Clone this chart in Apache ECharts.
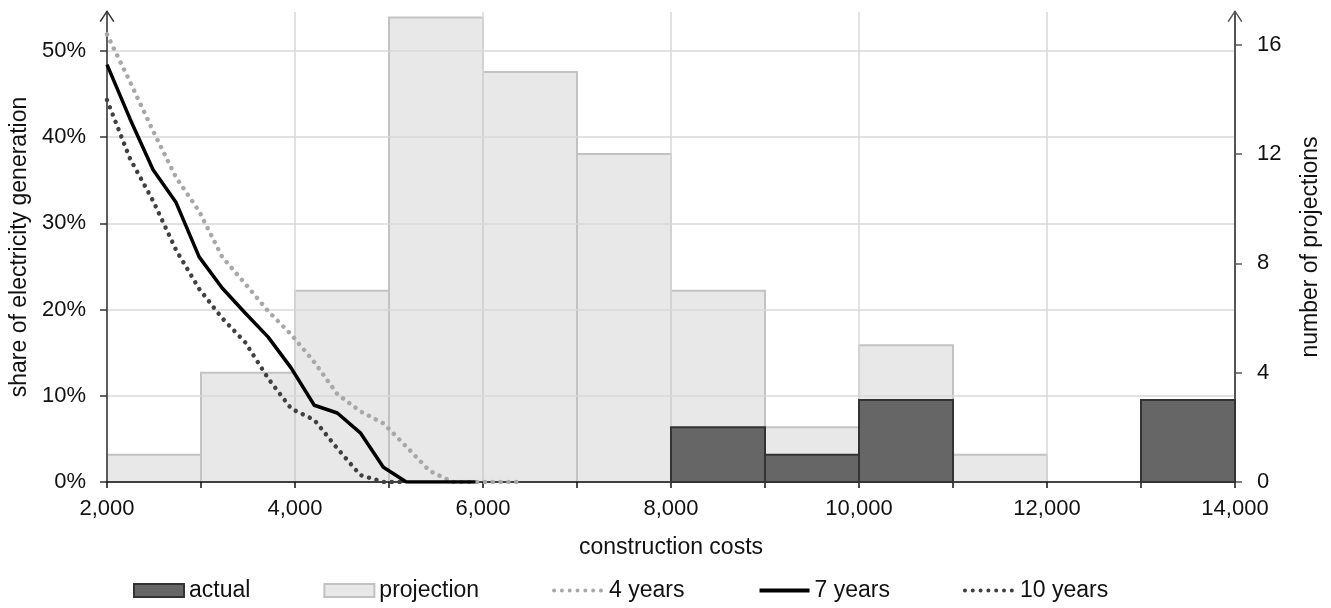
<!DOCTYPE html>
<html>
<head>
<meta charset="utf-8">
<script src="https://cdn.jsdelivr.net/npm/echarts@6/dist/echarts.min.js"></script>
<style>
  html, body { margin: 0; padding: 0; background: #ffffff; }
  #chart { width: 1331px; height: 608px; }
</style>
</head>
<body>
<div id="chart"></div>
<script>
// Histogram bins of construction costs (edges) and counts per bin
const binEdges = [2000, 3000, 4000, 5000, 6000, 7000, 8000, 9000, 10000, 11000, 12000, 13000, 14000];
const projectionCounts = [1, 4, 7, 17, 15, 12, 7, 2, 5, 1, 0, 0];
const actualCounts = [0, 0, 0, 0, 0, 0, 2, 1, 3, 0, 0, 3];

// Cost points of the share curves
const curveCosts = [2000, 2245, 2490, 2735, 2980, 3225, 3470, 3715, 3960, 4205, 4450, 4695, 4940, 5185, 5430, 5675, 5920, 6165, 6410];
// Share of electricity generation (%) for each build time
const share4Years = [51.9, 46.4, 40.7, 35.3, 31.4, 26.1, 23.0, 19.8, 17.1, 13.9, 10.2, 8.2, 6.8, 4.1, 1.3, 0, 0, 0, 0];
const share7Years = [48.4, 42.1, 36.2, 32.4, 26.1, 22.5, 19.6, 16.8, 13.2, 8.9, 8.0, 5.7, 1.7, 0, 0, 0, 0];
const share10Years = [44.3, 37.5, 32.6, 26.9, 22.4, 19.0, 16.2, 12.0, 8.5, 7.2, 3.9, 0.8, 0, 0];

// Axis ticks
const shareTicks = [0, 10, 20, 30, 40, 50];
const countTicks = [0, 4, 8, 12, 16];

const FONT = 'Liberation Sans, Arial, sans-serif';
const DOTS = [0.01, 7.8];
const LIGHT_DOTS = '#a8a8a8';
const DARK_DOTS = '#404040';

function toBins(counts) {
  return counts.map((n, i) => [binEdges[i], binEdges[i + 1], n]);
}
function toCurve(values) {
  return values.map((v, i) => [curveCosts[i], v]);
}

function histogramItem(params, api) {
  const n = api.value(2);
  if (!n) return null;
  const topLeft = api.coord([api.value(0), n]);
  const bottomRight = api.coord([api.value(1), 0]);
  return {
    type: 'rect',
    shape: {
      x: topLeft[0],
      y: topLeft[1],
      width: bottomRight[0] - topLeft[0],
      height: bottomRight[1] - topLeft[1]
    },
    style: api.style()
  };
}

const arrowPath = 'path://M0,12 L8,0 L16,12 L14.6,12.9 L8,2.6 L1.4,12.9 Z';

const chart = echarts.init(document.getElementById('chart'));

chart.setOption({
  animation: false,
  backgroundColor: '#ffffff',
  textStyle: { fontFamily: FONT },
  grid: {
    left: 107,
    right: 96,
    top: 12,
    bottom: 126,
    containLabel: false,
    outerBoundsMode: 'none'
  },
  legend: {
    bottom: 1,
    left: 128,
    itemWidth: 50,
    itemHeight: 13,
    itemGap: 73,
    textStyle: { fontSize: 23, color: '#111', fontFamily: FONT },
    data: [
      { name: 'actual', icon: 'rect' },
      { name: 'projection', icon: 'rect' },
      { name: '4 years', itemStyle: { opacity: 0 },
        lineStyle: { color: LIGHT_DOTS, width: 4, type: DOTS, cap: 'round' } },
      { name: '7 years', itemStyle: { opacity: 0 },
        lineStyle: { color: '#000000', width: 4, type: 'solid' } },
      { name: '10 years', itemStyle: { opacity: 0 },
        lineStyle: { color: DARK_DOTS, width: 4, type: DOTS, cap: 'round' } }
    ]
  },
  xAxis: {
    type: 'value',
    min: 2000,
    max: 14000,
    interval: 2000,
    name: 'construction costs',
    nameLocation: 'middle',
    nameGap: 54,
    nameTextStyle: { fontSize: 23, color: '#111', fontFamily: FONT },
    axisLine: { show: true, onZero: false, lineStyle: { color: '#111', width: 1.5 } },
    axisTick: { show: true, length: 6, lineStyle: { color: '#111', width: 1.5 } },
    minorTick: { show: true, splitNumber: 2, length: 6, lineStyle: { color: '#111', width: 1.5 } },
    axisLabel: {
      fontSize: 22,
      color: '#111',
      margin: 16,
      formatter: v => v.toLocaleString('en-US')
    },
    splitLine: { show: true, lineStyle: { color: '#d9d9d9', width: 1.5 } }
  },
  yAxis: [
    {
      type: 'value',
      position: 'left',
      min: 0,
      max: 54.5,
      interval: 10,
      name: 'share of electricity generation',
      nameLocation: 'middle',
      nameGap: 65,
      nameTextStyle: { fontSize: 23, color: '#111', fontFamily: FONT },
      axisLine: {
        show: true,
        lineStyle: { color: '#333', width: 1.5 },
        symbol: ['none', arrowPath],
        symbolSize: [16, 12],
        symbolOffset: [0, -4]
      },
      axisTick: { show: true, length: 7, customValues: shareTicks, lineStyle: { color: '#333', width: 1.5 } },
      axisLabel: {
        fontSize: 22,
        color: '#111',
        margin: 21,
        customValues: shareTicks,
        formatter: '{value}%'
      },
      splitLine: { show: true, lineStyle: { color: '#d9d9d9', width: 1.5 } }
    },
    {
      type: 'value',
      position: 'right',
      min: 0,
      max: 17.2,
      interval: 4,
      name: 'number of projections',
      nameLocation: 'middle',
      nameGap: 64,
      nameTextStyle: { fontSize: 23, color: '#111', fontFamily: FONT },
      axisLine: {
        show: true,
        lineStyle: { color: '#555', width: 2 },
        symbol: ['none', arrowPath],
        symbolSize: [16, 12],
        symbolOffset: [0, -4]
      },
      axisTick: { show: true, length: 7, customValues: countTicks, lineStyle: { color: '#555', width: 1.5 } },
      axisLabel: {
        fontSize: 22,
        color: '#111',
        margin: 22,
        customValues: countTicks
      },
      splitLine: { show: false }
    }
  ],
  series: [
    {
      name: 'projection',
      type: 'custom',
      yAxisIndex: 1,
      z: -1,
      renderItem: histogramItem,
      encode: { x: [0, 1], y: 2 },
      itemStyle: { color: '#e8e8e8', borderColor: '#c2c2c2', borderWidth: 2 },
      data: toBins(projectionCounts)
    },
    {
      name: 'actual',
      type: 'custom',
      yAxisIndex: 1,
      z: 2,
      renderItem: histogramItem,
      encode: { x: [0, 1], y: 2 },
      itemStyle: { color: '#666666', borderColor: '#333333', borderWidth: 2 },
      data: toBins(actualCounts)
    },
    {
      name: '4 years',
      type: 'line',
      yAxisIndex: 0,
      z: 4,
      symbol: 'none',
      color: LIGHT_DOTS,
      lineStyle: { color: LIGHT_DOTS, width: 4.5, type: DOTS, cap: 'round' },
      data: toCurve(share4Years)
    },
    {
      name: '7 years',
      type: 'line',
      yAxisIndex: 0,
      z: 5,
      symbol: 'none',
      color: '#000000',
      lineStyle: { color: '#000000', width: 3.5, type: 'solid' },
      data: toCurve(share7Years)
    },
    {
      name: '10 years',
      type: 'line',
      yAxisIndex: 0,
      z: 4,
      symbol: 'none',
      color: DARK_DOTS,
      lineStyle: { color: DARK_DOTS, width: 4.5, type: DOTS, cap: 'round' },
      data: toCurve(share10Years)
    }
  ]
});
</script>
</body>
</html>
